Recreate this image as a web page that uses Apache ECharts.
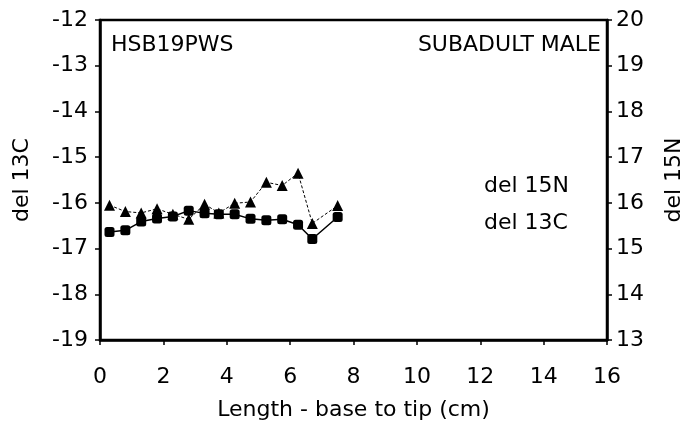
<!DOCTYPE html>
<html>
<head>
<meta charset="utf-8">
<script src="https://cdn.jsdelivr.net/npm/echarts@6/dist/echarts.min.js"></script>
<style>html,body{margin:0;padding:0;background:#fff}#c{width:687px;height:425px}</style>
</head>
<body>
<div id="c"></div>
<script>
const lengthCm = [0.3, 0.8, 1.3, 1.8, 2.3, 2.8, 3.3, 3.75, 4.25, 4.75, 5.25, 5.75, 6.25, 6.7, 7.5];
const del13C = [-16.64, -16.6, -16.41, -16.34, -16.3, -16.17, -16.23, -16.25, -16.25, -16.35, -16.38, -16.36, -16.48, -16.79, -16.31];
const del15N = [15.95, 15.81, 15.78, 15.87, 15.75, 15.64, 15.97, 15.78, 15.99, 16.02, 16.45, 16.38, 16.65, 15.55, 15.94];
const xTicks = {min: 0, max: 16, interval: 2};
const leftTicks = {min: -19, max: -12, interval: 1};
const rightTicks = {min: 13, max: 20, interval: 1};
const specimen = 'HSB19PWS';
const subject = 'SUBADULT MALE';

const FONT = 'DejaVu Sans';
const FS = 22;
const chart = echarts.init(document.getElementById('c'), null, {renderer: 'canvas'});
const axisCommon = {
  axisLine: {show: true, onZero: false, lineStyle: {color: '#000', width: 2.5}},
  axisTick: {show: true, inside: false, length: 5, lineStyle: {color: '#000', width: 1.5}},
  splitLine: {show: false},
  axisLabel: {color: '#000', fontFamily: FONT, fontSize: FS},
  nameTextStyle: {color: '#000', fontFamily: FONT, fontSize: FS}
};
const txt = (t) => ({text: t, font: FS + 'px "' + FONT + '"', fill: '#000'});
chart.setOption({
  animation: false,
  backgroundColor: '#fff',
  grid: {left: 100, right: 80, top: 20, bottom: 85, containLabel: false, outerBoundsMode: 'none',
         show: true, borderColor: '#000', borderWidth: 2.5},
  xAxis: Object.assign({}, axisCommon, {
    type: 'value', min: xTicks.min, max: xTicks.max, interval: xTicks.interval,
    name: 'Length - base to tip (cm)', nameLocation: 'middle', nameGap: 59,
    axisLabel: Object.assign({}, axisCommon.axisLabel, {margin: 26})
  }),
  yAxis: [
    Object.assign({}, axisCommon, {
      type: 'value', position: 'left', min: leftTicks.min, max: leftTicks.max, interval: leftTicks.interval,
      name: 'del 13C', nameLocation: 'middle', nameGap: 67, nameRotate: 90,
      axisLabel: Object.assign({}, axisCommon.axisLabel, {margin: 12})
    }),
    Object.assign({}, axisCommon, {
      type: 'value', position: 'right', min: rightTicks.min, max: rightTicks.max, interval: rightTicks.interval,
      name: 'del 15N', nameLocation: 'middle', nameGap: 56, nameRotate: 90,
      axisLabel: Object.assign({}, axisCommon.axisLabel, {margin: 9})
    })
  ],
  series: [
    {
      name: 'del 15N', type: 'line', yAxisIndex: 1,
      data: lengthCm.map((x, i) => [x, del15N[i]]),
      symbol: 'triangle', symbolSize: 11,
      itemStyle: {color: '#000'},
      lineStyle: {color: '#000', width: 1, type: [3, 2]}
    },
    {
      name: 'del 13C', type: 'line', yAxisIndex: 0,
      data: lengthCm.map((x, i) => [x, del13C[i]]),
      symbol: 'roundRect', symbolSize: 10,
      itemStyle: {color: '#000'},
      lineStyle: {color: '#000', width: 1.5}
    }
  ],
  graphic: [
    {type: 'text', left: 111, top: 34, style: txt(specimen)},
    {type: 'text', right: 86, top: 34, style: txt(subject)},
    {type: 'text', left: 484, top: 175, style: txt('del 15N')},
    {type: 'text', left: 484, top: 212, style: txt('del 13C')}
  ]
});
</script>
</body>
</html>
